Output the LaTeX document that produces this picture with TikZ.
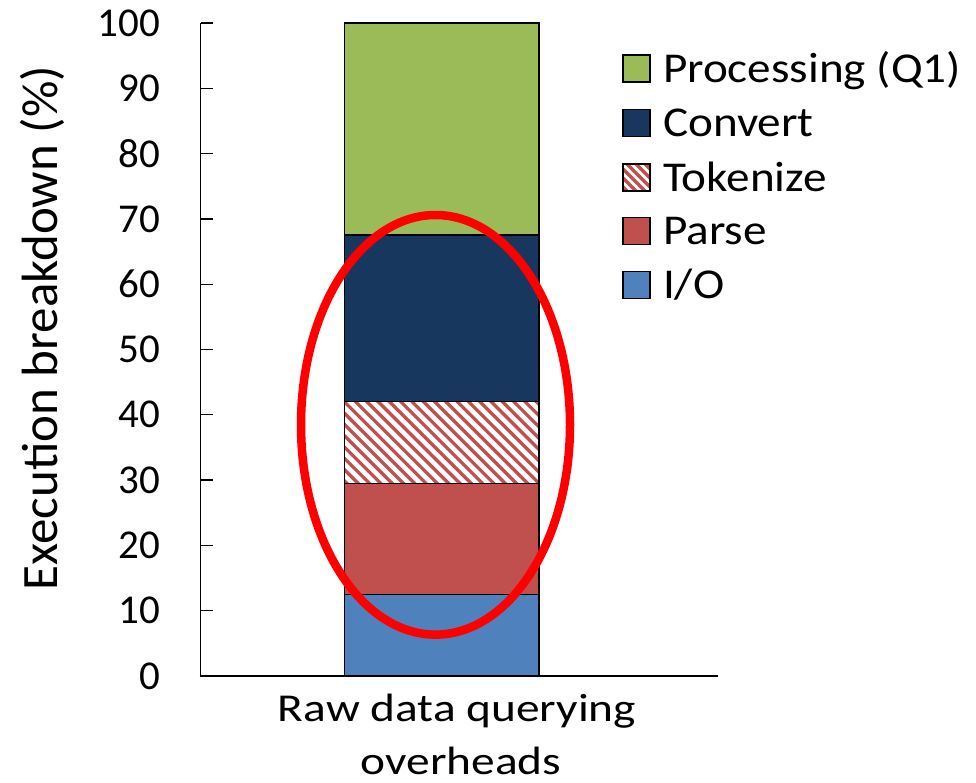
\documentclass[tikz,border=0pt]{standalone}
\usepackage{graphicx}
\usepackage{fontspec}
\setmainfont{Carlito}
\definecolor{procgreen}{HTML}{9BBB59}
\definecolor{convnavy}{HTML}{17375E}
\definecolor{parsered}{HTML}{C0504D}
\definecolor{ioblue}{HTML}{4F81BD}
\definecolor{ringred}{HTML}{FF0000}
\newcommand{\widetext}[2]{\scalebox{#1}[1]{#2}}
\begin{document}
\begin{tikzpicture}[x=1pt,y=-1pt,
  every node/.style={inner sep=0pt, outer sep=0pt},
  ticktxt/.style={font=\fontsize{41}{49}\selectfont},
  keytxt/.style={font=\fontsize{42.5}{50}\selectfont},
  xtxt/.style={font=\fontsize{39.5}{47}\selectfont},
  ytxt/.style={font=\fontsize{51}{60}\selectfont},
  seg/.style={draw=black, line width=1.5pt},
  key/.style={draw=black, line width=1.3pt, minimum size=27pt},
  axisline/.style={draw=black, line width=1.5pt},
  stripe/.style={parsered, line width=3.3pt}]
\useasboundingbox (0,0) rectangle (976,782);

% stacked bar (0% at y=676, 10% = 65.3 units)
\fill[ioblue]    (344.5,676)   rectangle (539,594.4);
\fill[parsered]  (344.5,594.4) rectangle (539,483.4);
\fill[white]     (344.5,483.4) rectangle (539,401.7);
\begin{scope}
  \clip (344.5,483.4) rectangle (539,401.7);
  \foreach \i in {-10,...,26} {
    \draw[stripe] (300+11.3*\i,380) -- ++(120,120);
  }
\end{scope}
\fill[convnavy]  (344.5,401.7) rectangle (539,235.2);
\fill[procgreen] (344.5,235.2) rectangle (539,23);
\foreach \ya/\yb in {676/594.4, 594.4/483.4, 483.4/401.7, 401.7/235.2, 235.2/23}
  \draw[seg] (344.5,\ya) rectangle (539,\yb);

% axes
\draw[axisline] (200.5,23) -- (200.5,676);
\draw[axisline, line width=2.4pt] (199.5,676) -- (718,676);
\foreach \v in {0,10,...,100} {
  \draw[axisline, line width=1.3pt] (200.5,676-6.53*\v) -- (213,676-6.53*\v);
  \node[ticktxt, anchor=east] (tick\v) at (160,676-6.53*\v) {\v};
}

% axis titles
\node[ytxt, rotate=90, anchor=base] (ytitle) at (57,328) {Execution breakdown (\%)};
\node[xtxt, anchor=base] (xtitleA) at (457,721) {\widetext{1.2}{Raw data querying}};
\node[xtxt, anchor=base] (xtitleB) at (461,774) {\widetext{1.2}{overheads}};

% legend
\node[key, fill=procgreen] (kproc)  at (636.5,68.5) {};
\node[key, fill=convnavy]  (kconv)  at (636.5,123) {};
\node[key, fill=white]     (ktok)   at (636.5,177.5) {};
\begin{scope}
  \clip (623,164) rectangle (650,191);
  \foreach \i in {-4,...,3} {
    \draw[stripe] (623+9*\i,160) -- ++(40,40);
  }
\end{scope}
\node[key] (ktokframe) at (ktok) {};
\node[key, fill=parsered]  (kparse) at (636.5,231) {};
\node[key, fill=ioblue]    (kio)    at (636.5,285) {};
\foreach \k/\t in {kproc/{Processing (Q1)}, kconv/{Convert}, ktok/{Tokenize}, kparse/{Parse}, kio/{I/O}}
  \node[keytxt, anchor=base west] (\k-label) at ([xshift=13pt]\k.south east) {\widetext{1.11}{\t}};

% highlight ring
\draw[ringred, line width=8.5pt] (435.5,424.8) ellipse [x radius=134.5, y radius=209.8];
\end{tikzpicture}
\end{document}
